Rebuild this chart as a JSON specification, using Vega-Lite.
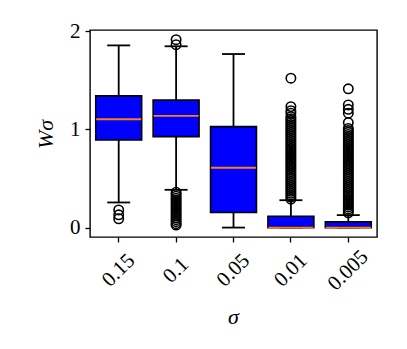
{
  "$schema": "https://vega.github.io/schema/vega-lite/v6.json",
  "autosize": "none",
  "padding": {"left": 90, "top": 30, "right": 30, "bottom": 112},
  "width": 287,
  "height": 207,
  "background": "white",
  "config": {
    "view": {"stroke": "black", "strokeWidth": 1.4},
    "font": "Liberation Serif",
    "axis": {
      "domain": false,
      "grid": false,
      "labelFont": "Liberation Serif",
      "titleFont": "Liberation Serif",
      "labelFontSize": 21,
      "titleFontSize": 22,
      "labelColor": "black",
      "titleColor": "black",
      "tickColor": "black",
      "tickSize": 5,
      "tickWidth": 1.3,
      "labelOverlap": false
    }
  },
  "datasets": {
    "stats": [
      {"sigma": "0.15", "lower": 0.256, "q1": 0.893, "median": 1.104, "q3": 1.343, "upper": 1.857},
      {"sigma": "0.1", "lower": 0.385, "q1": 0.927, "median": 1.138, "q3": 1.299, "upper": 1.848},
      {"sigma": "0.05", "lower": 0.0, "q1": 0.153, "median": 0.61, "q3": 1.029, "upper": 1.769},
      {"sigma": "0.01", "lower": 0.0, "q1": 0.0, "median": 0.0, "q3": 0.116, "upper": 0.279},
      {"sigma": "0.005", "lower": 0.0, "q1": 0.0, "median": 0.0, "q3": 0.058, "upper": 0.127}
    ],
    "outliers": [
      {"sigma": "0.15", "v": 0.18}, {"sigma": "0.15", "v": 0.13}, {"sigma": "0.15", "v": 0.09},
      {"sigma": "0.1", "v": 1.915}, {"sigma": "0.1", "v": 1.864},
      {"sigma": "0.1", "v": 0.36}, {"sigma": "0.1", "v": 0.34}, {"sigma": "0.1", "v": 0.32}, {"sigma": "0.1", "v": 0.30},
      {"sigma": "0.1", "v": 0.28}, {"sigma": "0.1", "v": 0.26}, {"sigma": "0.1", "v": 0.24}, {"sigma": "0.1", "v": 0.22},
      {"sigma": "0.1", "v": 0.20}, {"sigma": "0.1", "v": 0.18}, {"sigma": "0.1", "v": 0.16}, {"sigma": "0.1", "v": 0.14},
      {"sigma": "0.1", "v": 0.12}, {"sigma": "0.1", "v": 0.10}, {"sigma": "0.1", "v": 0.08}, {"sigma": "0.1", "v": 0.06},
      {"sigma": "0.1", "v": 0.04}, {"sigma": "0.1", "v": 0.025},
      {"sigma": "0.01", "v": 1.523}, {"sigma": "0.01", "v": 1.233}, {"sigma": "0.01", "v": 1.192}, {"sigma": "0.01", "v": 1.166},
      {"sigma": "0.01", "v": 1.131}, {"sigma": "0.01", "v": 1.11}, {"sigma": "0.01", "v": 1.09}, {"sigma": "0.01", "v": 1.07},
      {"sigma": "0.01", "v": 1.05}, {"sigma": "0.01", "v": 1.03}, {"sigma": "0.01", "v": 1.01}, {"sigma": "0.01", "v": 0.99},
      {"sigma": "0.01", "v": 0.97}, {"sigma": "0.01", "v": 0.95}, {"sigma": "0.01", "v": 0.93}, {"sigma": "0.01", "v": 0.91},
      {"sigma": "0.01", "v": 0.89}, {"sigma": "0.01", "v": 0.87}, {"sigma": "0.01", "v": 0.85}, {"sigma": "0.01", "v": 0.83},
      {"sigma": "0.01", "v": 0.81}, {"sigma": "0.01", "v": 0.79}, {"sigma": "0.01", "v": 0.77}, {"sigma": "0.01", "v": 0.75},
      {"sigma": "0.01", "v": 0.73}, {"sigma": "0.01", "v": 0.71}, {"sigma": "0.01", "v": 0.69}, {"sigma": "0.01", "v": 0.67},
      {"sigma": "0.01", "v": 0.65}, {"sigma": "0.01", "v": 0.63}, {"sigma": "0.01", "v": 0.61}, {"sigma": "0.01", "v": 0.59},
      {"sigma": "0.01", "v": 0.57}, {"sigma": "0.01", "v": 0.55}, {"sigma": "0.01", "v": 0.53}, {"sigma": "0.01", "v": 0.51},
      {"sigma": "0.01", "v": 0.49}, {"sigma": "0.01", "v": 0.47}, {"sigma": "0.01", "v": 0.45}, {"sigma": "0.01", "v": 0.43},
      {"sigma": "0.01", "v": 0.41}, {"sigma": "0.01", "v": 0.39}, {"sigma": "0.01", "v": 0.37}, {"sigma": "0.01", "v": 0.35},
      {"sigma": "0.01", "v": 0.33}, {"sigma": "0.01", "v": 0.31}, {"sigma": "0.01", "v": 0.29},
      {"sigma": "0.005", "v": 1.414}, {"sigma": "0.005", "v": 1.25}, {"sigma": "0.005", "v": 1.206}, {"sigma": "0.005", "v": 1.166},
      {"sigma": "0.005", "v": 1.07}, {"sigma": "0.005", "v": 1.01}, {"sigma": "0.005", "v": 0.99}, {"sigma": "0.005", "v": 0.97},
      {"sigma": "0.005", "v": 0.95}, {"sigma": "0.005", "v": 0.93}, {"sigma": "0.005", "v": 0.91}, {"sigma": "0.005", "v": 0.89},
      {"sigma": "0.005", "v": 0.87}, {"sigma": "0.005", "v": 0.85}, {"sigma": "0.005", "v": 0.83}, {"sigma": "0.005", "v": 0.81},
      {"sigma": "0.005", "v": 0.79}, {"sigma": "0.005", "v": 0.77}, {"sigma": "0.005", "v": 0.75}, {"sigma": "0.005", "v": 0.73},
      {"sigma": "0.005", "v": 0.71}, {"sigma": "0.005", "v": 0.69}, {"sigma": "0.005", "v": 0.67}, {"sigma": "0.005", "v": 0.65},
      {"sigma": "0.005", "v": 0.63}, {"sigma": "0.005", "v": 0.61}, {"sigma": "0.005", "v": 0.59}, {"sigma": "0.005", "v": 0.57},
      {"sigma": "0.005", "v": 0.55}, {"sigma": "0.005", "v": 0.53}, {"sigma": "0.005", "v": 0.51}, {"sigma": "0.005", "v": 0.49},
      {"sigma": "0.005", "v": 0.47}, {"sigma": "0.005", "v": 0.45}, {"sigma": "0.005", "v": 0.43}, {"sigma": "0.005", "v": 0.41},
      {"sigma": "0.005", "v": 0.39}, {"sigma": "0.005", "v": 0.37}, {"sigma": "0.005", "v": 0.35}, {"sigma": "0.005", "v": 0.33},
      {"sigma": "0.005", "v": 0.31}, {"sigma": "0.005", "v": 0.29}, {"sigma": "0.005", "v": 0.27}, {"sigma": "0.005", "v": 0.25},
      {"sigma": "0.005", "v": 0.23}, {"sigma": "0.005", "v": 0.21}, {"sigma": "0.005", "v": 0.19}, {"sigma": "0.005", "v": 0.17},
      {"sigma": "0.005", "v": 0.15}
    ]
  },
  "encoding": {
    "x": {
      "field": "sigma",
      "type": "nominal",
      "sort": ["0.15", "0.1", "0.05", "0.01", "0.005"],
      "scale": {"paddingInner": 0, "paddingOuter": 0},
      "axis": {
        "title": "σ",
        "titleFontStyle": "italic",
        "titleFontWeight": "normal",
        "titleX": 143,
        "titleY": 79,
        "titleBaseline": "middle",
        "labelAngle": -45,
        "labelAlign": "center",
        "labelBaseline": "middle",
        "labelPadding": 28
      }
    }
  },
  "layer": [
    {
      "data": {"name": "stats"},
      "mark": {"type": "rule", "color": "black", "strokeWidth": 1.8},
      "encoding": {
        "y": {
          "field": "lower",
          "type": "quantitative",
          "scale": {"domain": [-0.096, 2.014], "nice": false, "zero": false},
          "axis": {
            "values": [0, 1, 2],
            "format": ".0f",
            "title": "Wσ",
            "titleFontStyle": "italic",
            "titleFontWeight": "normal",
            "titleAngle": -90,
            "titleX": -45,
            "titleY": 104,
            "titleAlign": "center",
            "titleBaseline": "middle",
            "labelPadding": 5
          }
        },
        "y2": {"field": "upper"}
      }
    },
    {
      "data": {"name": "stats"},
      "mark": {"type": "bar", "color": "#0000ff", "stroke": "black", "strokeWidth": 1.6, "opacity": 1, "width": {"band": 0.8}},
      "encoding": {
        "y": {"field": "q1", "type": "quantitative"},
        "y2": {"field": "q3"}
      }
    },
    {
      "data": {"name": "stats"},
      "mark": {"type": "tick", "color": "black", "opacity": 1, "size": 23, "thickness": 1.8, "orient": "horizontal"},
      "encoding": {"y": {"field": "upper", "type": "quantitative"}}
    },
    {
      "data": {"name": "stats"},
      "mark": {"type": "tick", "color": "black", "opacity": 1, "size": 23, "thickness": 1.8, "orient": "horizontal"},
      "encoding": {"y": {"field": "lower", "type": "quantitative"}}
    },
    {
      "data": {"name": "stats"},
      "mark": {"type": "tick", "color": "#ff7f0e", "opacity": 1, "size": 45, "thickness": 1.8, "orient": "horizontal"},
      "encoding": {"y": {"field": "median", "type": "quantitative"}}
    },
    {
      "data": {"name": "outliers"},
      "mark": {"type": "point", "shape": "circle", "filled": false, "color": "black", "size": 88, "strokeWidth": 1.6, "opacity": 1},
      "encoding": {"y": {"field": "v", "type": "quantitative"}}
    }
  ]
}
